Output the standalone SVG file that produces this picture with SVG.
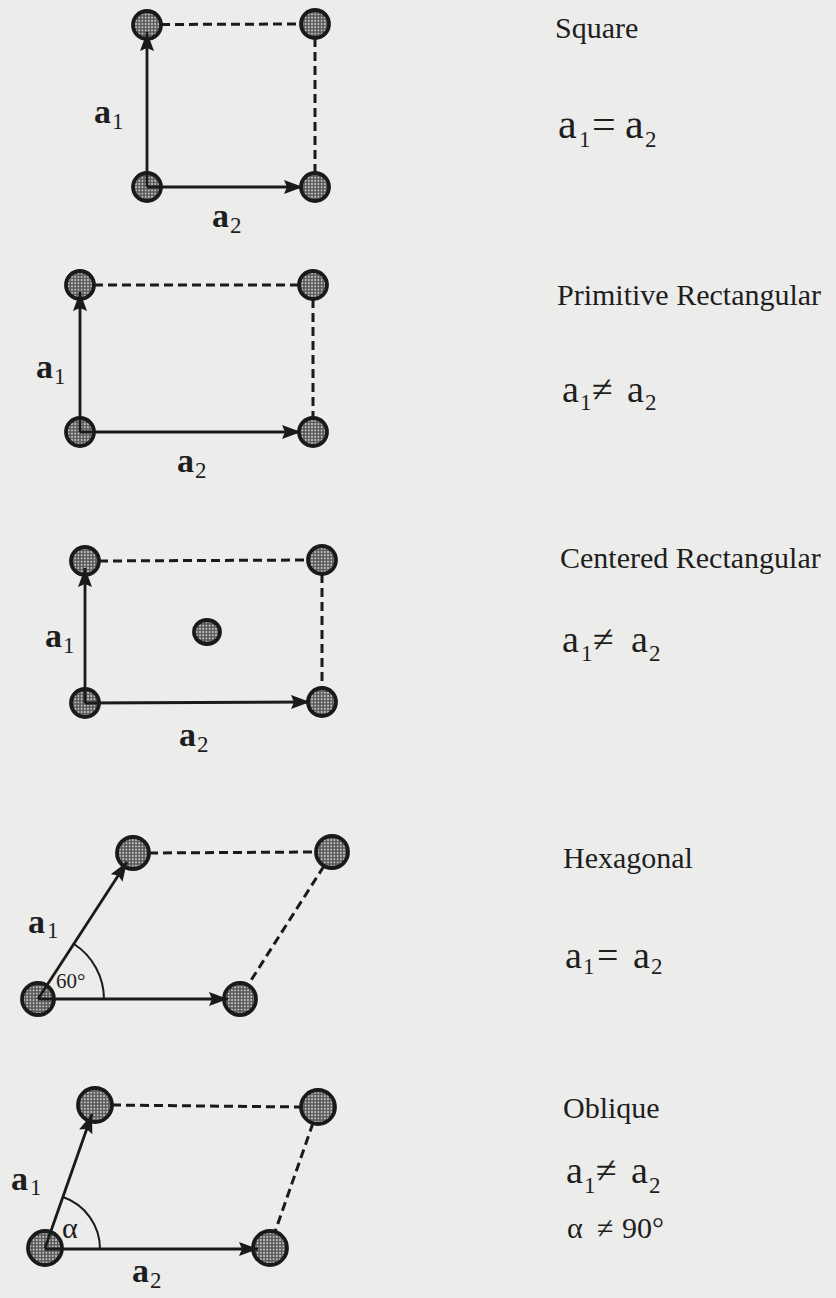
<svg xmlns="http://www.w3.org/2000/svg" width="836" height="1298" viewBox="0 0 836 1298">
<style>
.bg{fill:#ececeb}
.node{fill:url(#dots);stroke:#1a1a1a;stroke-width:3.8}
.vec{stroke:#1a1a1a;stroke-width:2.8;fill:none}
.dash{stroke:#1a1a1a;stroke-width:3;fill:none;stroke-dasharray:9 5}
.arc{stroke:#1a1a1a;stroke-width:2;fill:none}
text{font-family:"Liberation Serif","Times New Roman",serif;fill:#1e1e1e}
.lbl{font-size:34px;font-weight:bold}
.sub{font-size:23px;font-weight:normal}
.title{font-size:30px}
.eq{font-size:38px}
.eqs{font-size:42px}
.ang{font-size:21px}
.alpha{font-size:30px}
</style>
<defs>
<pattern id="dots" width="3.2" height="3.2" patternUnits="userSpaceOnUse">
<rect width="3.2" height="3.2" fill="#585858"/>
<circle cx="1.6" cy="1.6" r="0.95" fill="#cbcbcb"/>
</pattern>
<marker id="ah" markerUnits="userSpaceOnUse" markerWidth="22" markerHeight="16" refX="19" refY="7" orient="auto">
<path d="M0,0 L19,7 L0,14 L3,7 z" fill="#1a1a1a"/>
</marker>
</defs>
<rect class="bg" x="0" y="0" width="836" height="1298"/>

<g id="square">
<circle id="sq-bl" class="node" cx="147" cy="187" r="14"/>
<circle id="sq-tl" class="node" cx="147" cy="25" r="14"/>
<circle id="sq-tr" class="node" cx="315" cy="24" r="14"/>
<circle id="sq-br" class="node" cx="315" cy="187" r="14"/>
<text class="lbl" x="94" y="123">a<tspan class="sub" x="112" y="129">1</tspan></text>
<text class="lbl" x="212" y="227">a<tspan class="sub" x="230" y="233">2</tspan></text>
<text class="title" x="555" y="38">Square</text>
<text class="eqs" x="558" y="138">a<tspan class="sub" x="579" y="147">1</tspan><tspan x="592" y="138">=</tspan><tspan x="625">a</tspan><tspan class="sub" x="645" y="147">2</tspan></text>
</g>

<g id="primitive">
<circle id="pr-bl" class="node" cx="80" cy="432" r="14"/>
<circle id="pr-tl" class="node" cx="80" cy="285" r="14"/>
<circle id="pr-tr" class="node" cx="313" cy="285" r="14"/>
<circle id="pr-br" class="node" cx="313" cy="432" r="14"/>
<text class="lbl" x="36" y="378">a<tspan class="sub" x="54" y="384">1</tspan></text>
<text class="lbl" x="177" y="472">a<tspan class="sub" x="195" y="478">2</tspan></text>
<text class="title" x="557" y="305">Primitive Rectangular</text>
<text class="eq" x="562" y="402">a<tspan class="sub" x="580" y="410">1</tspan><tspan x="592" y="402">≠</tspan><tspan x="627">a</tspan><tspan class="sub" x="645" y="410">2</tspan></text>
</g>

<g id="centered">
<circle id="ce-bl" class="node" cx="85" cy="703" r="14"/>
<circle id="ce-tl" class="node" cx="85" cy="561" r="14"/>
<circle id="ce-tr" class="node" cx="322" cy="560" r="14"/>
<circle id="ce-br" class="node" cx="322" cy="702" r="14"/>
<ellipse id="ce-c" class="node" cx="207" cy="632" rx="13" ry="12"/>
<text class="lbl" x="45" y="647">a<tspan class="sub" x="63" y="653">1</tspan></text>
<text class="lbl" x="179" y="746">a<tspan class="sub" x="197" y="752">2</tspan></text>
<text class="title" x="560" y="568">Centered Rectangular</text>
<text class="eq" x="562" y="652">a<tspan class="sub" x="581" y="661">1</tspan><tspan x="593" y="652">≠</tspan><tspan x="631">a</tspan><tspan class="sub" x="649" y="661">2</tspan></text>
</g>

<g id="hexagonal">
<circle id="hx-bl" class="node" cx="38" cy="999" r="16"/>
<circle id="hx-tl" class="node" cx="133" cy="853" r="16"/>
<circle id="hx-tr" class="node" cx="332" cy="852" r="16"/>
<circle id="hx-br" class="node" cx="240" cy="999" r="16"/>
<text class="lbl" x="28" y="933">a<tspan class="sub" x="47" y="938">1</tspan></text>
<text class="ang" x="56" y="988">60°</text>
<text class="title" x="563" y="868">Hexagonal</text>
<text class="eq" x="565" y="968">a<tspan class="sub" x="583" y="974">1</tspan><tspan x="597" y="968">=</tspan><tspan x="633">a</tspan><tspan class="sub" x="651" y="974">2</tspan></text>
</g>

<g id="oblique">
<circle id="ob-bl" class="node" cx="45" cy="1248" r="17"/>
<circle id="ob-tl" class="node" cx="95" cy="1105" r="17"/>
<circle id="ob-tr" class="node" cx="318" cy="1107" r="17"/>
<circle id="ob-br" class="node" cx="270" cy="1248" r="17"/>
<text class="lbl" x="11" y="1190">a<tspan class="sub" x="30" y="1195">1</tspan></text>
<text class="lbl" x="132" y="1282">a<tspan class="sub" x="150" y="1288">2</tspan></text>
<text class="alpha" x="62" y="1238">α</text>
<text class="title" x="563" y="1118">Oblique</text>
<text class="eq" x="566" y="1183">a<tspan class="sub" x="584" y="1193">1</tspan><tspan x="596" y="1183">≠</tspan><tspan x="631">a</tspan><tspan class="sub" x="649" y="1193">2</tspan></text>
<text class="alpha" x="567" y="1238">α<tspan x="597">≠</tspan><tspan x="622">90°</tspan></text>
</g>

<g id="connectors">
<line class="vec" x1="147" y1="187" x2="147" y2="32" marker-end="url(#ah)"/>
<line class="vec" x1="147" y1="187" x2="303" y2="187" marker-end="url(#ah)"/>
<line class="dash" x1="161" y1="24.5" x2="301" y2="24"/>
<line class="dash" x1="315" y1="38" x2="315" y2="173"/>

<line class="vec" x1="80" y1="432" x2="80" y2="292" marker-end="url(#ah)"/>
<line class="vec" x1="80" y1="432" x2="301" y2="432" marker-end="url(#ah)"/>
<line class="dash" x1="94" y1="285" x2="299" y2="285"/>
<line class="dash" x1="313" y1="299" x2="313" y2="418"/>

<line class="vec" x1="85" y1="703" x2="85" y2="568" marker-end="url(#ah)"/>
<line class="vec" x1="85" y1="703" x2="310" y2="702" marker-end="url(#ah)"/>
<line class="dash" x1="99" y1="561" x2="308" y2="560"/>
<line class="dash" x1="322" y1="574" x2="322" y2="688"/>

<line class="vec" x1="38" y1="999" x2="127" y2="862" marker-end="url(#ah)"/>
<line class="vec" x1="38" y1="999" x2="228" y2="999" marker-end="url(#ah)"/>
<line class="dash" x1="149" y1="853" x2="316" y2="852"/>
<line class="dash" x1="324" y1="866" x2="248" y2="985"/>
<path class="arc" d="M104,999 A66,66 0 0 0 74,944"/>

<line class="vec" x1="45" y1="1248" x2="92" y2="1114" marker-end="url(#ah)"/>
<line class="vec" x1="45" y1="1249" x2="258" y2="1249" marker-end="url(#ah)"/>
<line class="dash" x1="112" y1="1105" x2="301" y2="1107"/>
<line class="dash" x1="313" y1="1123" x2="275" y2="1232"/>
<path class="arc" d="M100,1249 A55,55 0 0 0 63,1197"/>
</g>
</svg>
